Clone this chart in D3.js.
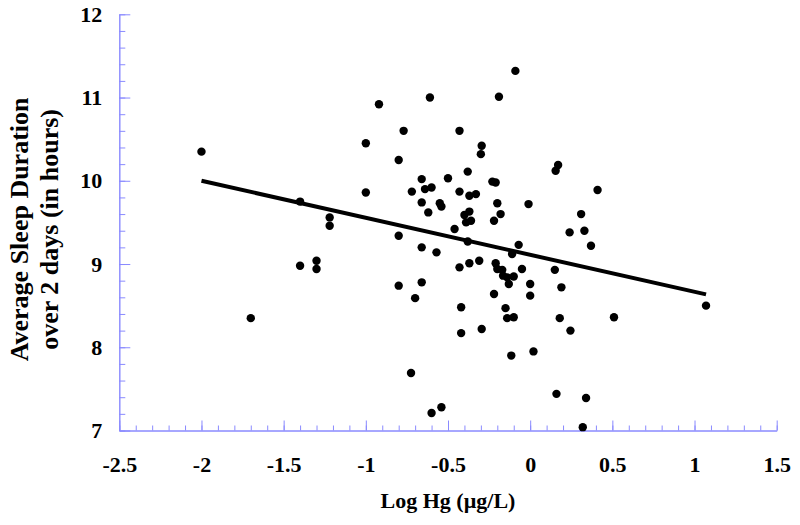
<!DOCTYPE html>
<html>
<head>
<meta charset="utf-8">
<script src="https://cdn.jsdelivr.net/npm/d3@7"></script>
<style>
  html, body { margin: 0; padding: 0; background: #fff; }
  svg { display: block; }
  text { font-family: "Liberation Serif", "Times New Roman", serif; font-weight: bold; fill: #000; }
</style>
</head>
<body>
<svg id="chart" width="800" height="525"></svg>
<script>
// ---- data ----
const logHg = [
  -2.00, -1.70, -1.40, -1.40, -1.30, -1.30, -1.22, -1.22, -1.00, -1.00,
  -0.92, -0.80, -0.80, -0.80, -0.77, -0.72, -0.725, -0.70, -0.66, -0.66,
  -0.66, -0.66, -0.64, -0.62, -0.61, -0.60, -0.60, -0.57, -0.55, -0.54,
  -0.54, -0.50, -0.46, -0.43, -0.43, -0.43, -0.42, -0.42, -0.40, -0.39,
  -0.38, -0.38, -0.37, -0.36, -0.37, -0.37, -0.33, -0.31, -0.30, -0.295,
  -0.295, -0.23, -0.21, -0.22, -0.22, -0.21, -0.20, -0.20, -0.19, -0.18,
  -0.17, -0.165, -0.14, -0.15, -0.14, -0.13, -0.115, -0.11, -0.10, -0.10,
  -0.09, -0.07, -0.05, -0.01, 0.00, 0.00, 0.02, 0.15, 0.155, 0.17,
  0.16, 0.18, 0.19, 0.24, 0.245, 0.31, 0.32, 0.33, 0.34, 0.37,
  0.41, 0.51, 1.07
];
const sleepHours = [
  10.35, 8.35, 9.75, 8.98, 9.04, 8.94, 9.56, 9.46, 10.45, 9.86,
  10.92, 10.25, 9.34, 8.74, 10.60, 9.87, 7.69, 8.59, 10.02, 9.74,
  9.20, 8.78, 9.90, 9.62, 11.00, 9.92, 7.21, 9.14, 9.73, 9.69,
  7.28, 10.03, 9.42, 10.60, 9.87, 8.96, 8.48, 8.17, 9.59, 9.50,
  10.11, 9.27, 9.63, 9.52, 9.82, 9.01, 9.84, 9.04, 10.32, 10.42,
  8.22, 9.99, 9.98, 8.64, 9.52, 9.01, 9.73, 8.94, 11.01, 9.60,
  8.93, 8.86, 8.84, 8.47, 8.35, 8.76, 7.90, 9.12, 8.85, 8.36,
  11.32, 9.23, 8.94, 9.72, 8.76, 8.62, 7.95, 8.93, 10.12, 10.19,
  7.44, 8.35, 8.72, 9.38, 8.20, 9.60, 7.04, 9.40, 7.39, 9.22,
  9.89, 8.36, 8.50
];
// fitted regression line end points
const fitX = [-2.0, 1.07];
const fitY = [10.0, 8.635];

const xTicks = [-2.5, -2, -1.5, -1, -0.5, 0, 0.5, 1, 1.5];
const yTicks = [7, 8, 9, 10, 11, 12];
const xDomain = [-2.5, 1.5];
const yDomain = [7, 12];
const xTitle = "Log Hg (\u00b5g/L)";
const yTitleLines = ["Average Sleep Duration", "over 2 days (in hours)"];

// ---- layout ----
const svg = d3.select("#chart");
const mLeft = 119.3, mRight = 776.7, mTop = 14.3, mBottom = 430.5;
const axisColor = "#8a8aff";

const x = d3.scaleLinear().domain(xDomain).range([mLeft, mRight]);
const y = d3.scaleLinear().domain(yDomain).range([mBottom, mTop]);

const fmt = d => (d < 0 ? "-" : "") + String(Math.abs(d));

// minor ticks
const xMinor = d3.range(-25, 16).map(v => v / 10);
const yMinor = d3.range(35, 61).map(v => v / 5);

const gx = svg.append("g").attr("transform", `translate(0,${mBottom})`);
gx.call(d3.axisBottom(x).tickValues(xMinor).tickSizeInner(-5).tickSizeOuter(0).tickFormat(""));
gx.append("g").call(d3.axisBottom(x).tickValues(xTicks).tickSizeInner(-10).tickSizeOuter(0)
  .tickPadding(26).tickFormat(fmt));
gx.selectAll("path.domain").attr("stroke", axisColor);
gx.selectAll(".tick line").attr("stroke", axisColor);
gx.selectAll(".tick text").style("font-size", "22px").style("font-family", '"Liberation Serif", serif')
  .style("font-weight", "bold").attr("fill", "#000");

const gy = svg.append("g").attr("transform", `translate(${mLeft},0)`);
gy.call(d3.axisLeft(y).tickValues(yMinor).tickSizeInner(-6).tickSizeOuter(0).tickFormat(""));
gy.append("g").call(d3.axisLeft(y).tickValues(yTicks).tickSizeInner(-11).tickSizeOuter(0)
  .tickPadding(17).tickFormat(d3.format("d")));
gy.selectAll("path.domain").attr("stroke", axisColor);
gy.selectAll(".tick line").attr("stroke", axisColor);
gy.selectAll(".tick text").style("font-size", "22px").style("font-family", '"Liberation Serif", serif')
  .style("font-weight", "bold").attr("fill", "#000");

// regression line
svg.append("line")
  .attr("x1", x(fitX[0])).attr("y1", y(fitY[0]))
  .attr("x2", x(fitX[1])).attr("y2", y(fitY[1]))
  .attr("stroke", "#000").attr("stroke-width", 4);

// points
svg.append("g").selectAll("circle")
  .data(logHg.map((v, i) => [v, sleepHours[i]]))
  .join("circle")
  .attr("cx", d => x(d[0])).attr("cy", d => y(d[1]))
  .attr("r", 4.2).attr("fill", "#000");

// titles
svg.append("text").attr("x", 448).attr("y", 508).attr("text-anchor", "middle")
  .style("font-size", "22px").text(xTitle);

const yt = svg.append("text").attr("transform", `translate(0,${(mTop + mBottom) / 2 + 7}) rotate(-90)`)
  .attr("text-anchor", "middle").style("font-size", "26px");
yt.append("tspan").attr("x", 0).attr("y", 28).text(yTitleLines[0]);
yt.append("tspan").attr("x", 0).attr("y", 58).text(yTitleLines[1]);
</script>
</body>
</html>
